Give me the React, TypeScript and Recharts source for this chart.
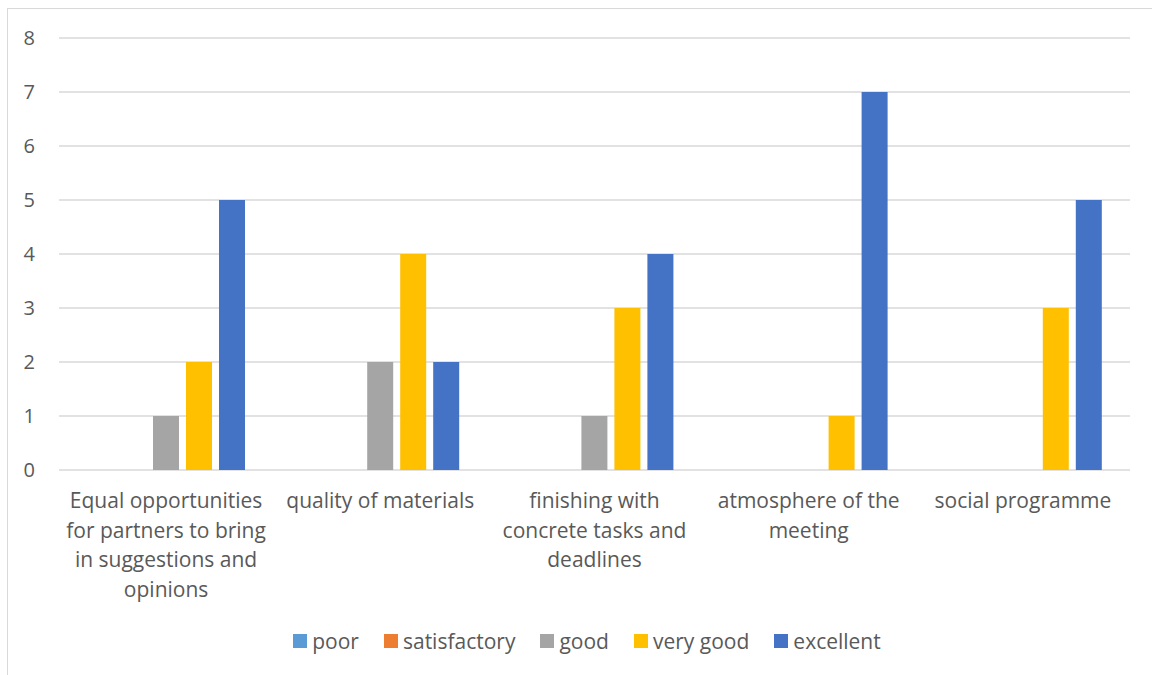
import { BarChart, Bar, XAxis, YAxis, CartesianGrid, Legend } from "recharts";

const categories = [
  "Equal opportunities for partners to bring in suggestions and opinions",
  "quality of materials",
  "finishing with concrete tasks and deadlines",
  "atmosphere of the meeting",
  "social programme",
];
const poor = [0, 0, 0, 0, 0];
const satisfactory = [0, 0, 0, 0, 0];
const good = [1, 2, 1, 0, 0];
const veryGood = [2, 4, 3, 1, 3];
const excellent = [5, 2, 4, 7, 5];
const yTicks = [0, 1, 2, 3, 4, 5, 6, 7, 8];

const series = [
  { key: "poor", name: "poor", color: "#5B9BD5" },
  { key: "satisfactory", name: "satisfactory", color: "#ED7D31" },
  { key: "good", name: "good", color: "#A5A5A5" },
  { key: "veryGood", name: "very good", color: "#FFC000" },
  { key: "excellent", name: "excellent", color: "#4472C4" },
];

const data = categories.map((c, i) => ({
  category: c,
  poor: poor[i],
  satisfactory: satisfactory[i],
  good: good[i],
  veryGood: veryGood[i],
  excellent: excellent[i],
}));

const FONT = "'Open Sans', sans-serif";
const TEXT = "#595959";
const LABEL_SIZE = 21;

let ctx: CanvasRenderingContext2D | null = null;
const measure = (s: string) => {
  if (!ctx) ctx = document.createElement("canvas").getContext("2d");
  if (!ctx) return s.length * 10;
  ctx.font = `${LABEL_SIZE}px 'Open Sans'`;
  return ctx.measureText(s).width;
};

// greedy word wrap, like excel does for category labels
const wrap = (label: string, maxWidth: number) => {
  const lines: string[] = [];
  let cur = "";
  label.split(" ").forEach((w) => {
    const next = cur ? `${cur} ${w}` : w;
    if (cur && measure(next) > maxWidth) {
      lines.push(cur);
      cur = w;
    } else {
      cur = next;
    }
  });
  if (cur) lines.push(cur);
  return lines;
};

const CategoryTick = ({ x, y, payload }: any) => {
  const lines = wrap(payload.value, 208);
  return (
    <text x={x} y={y + 38} textAnchor="middle" fontSize={LABEL_SIZE} fontFamily={FONT} fill={TEXT}>
      {lines.map((l, i) => (
        <tspan key={i} x={x} dy={i === 0 ? 0 : 29.5}>
          {l}
        </tspan>
      ))}
    </text>
  );
};

const ChartLegend = () => (
  <div
    style={{
      display: "flex",
      justifyContent: "center",
      alignItems: "center",
      gap: 25,
      paddingLeft: 44,
      fontFamily: FONT,
      fontSize: LABEL_SIZE,
      color: TEXT,
      height: 60,
      marginTop: -4,
    }}
  >
    {series.map((s) => (
      <div key={s.key} style={{ display: "flex", alignItems: "center", gap: 5 }}>
        <span style={{ width: 14, height: 14, background: s.color, display: "inline-block" }} />
        <span>{s.name}</span>
      </div>
    ))}
  </div>
);

const App = () => {
  return (
    <div style={{ position: "absolute", left: 0, top: 0, width: 1152, height: 675, background: "#fff", overflow: "hidden" }}>
      <div
        style={{
          position: "absolute",
          left: 7,
          top: 8,
          width: 1170,
          height: 700,
          border: "1px solid #D9D9D9",
        }}
      />
      <div style={{ position: "absolute", left: 0, top: 0 }}>
        <BarChart
          width={1152}
          height={675}
          data={data}
          margin={{ top: 38, right: 22, left: 0, bottom: 0 }}
          barCategoryGap={28}
          barGap={7}
        >
          <CartesianGrid vertical={false} stroke="#D9D9D9" strokeWidth={1.5} />
          <XAxis
            dataKey="category"
            axisLine={false}
            tickLine={false}
            tickSize={0}
            tickMargin={0}
            height={145}
            interval={0}
            tick={<CategoryTick />}
          />
          <YAxis
            domain={[0, 8]}
            ticks={yTicks}
            width={59}
            axisLine={false}
            tickLine={false}
            tickSize={0}
            tickMargin={24}
            tick={{ fontSize: 20, fill: TEXT, fontFamily: FONT }}
          />
          <Legend verticalAlign="bottom" height={60} content={<ChartLegend />} />
          {series.map((s) => (
            <Bar key={s.key} dataKey={s.key} name={s.name} fill={s.color} isAnimationActive={false} />
          ))}
        </BarChart>
      </div>
    </div>
  );
};

export default App;
